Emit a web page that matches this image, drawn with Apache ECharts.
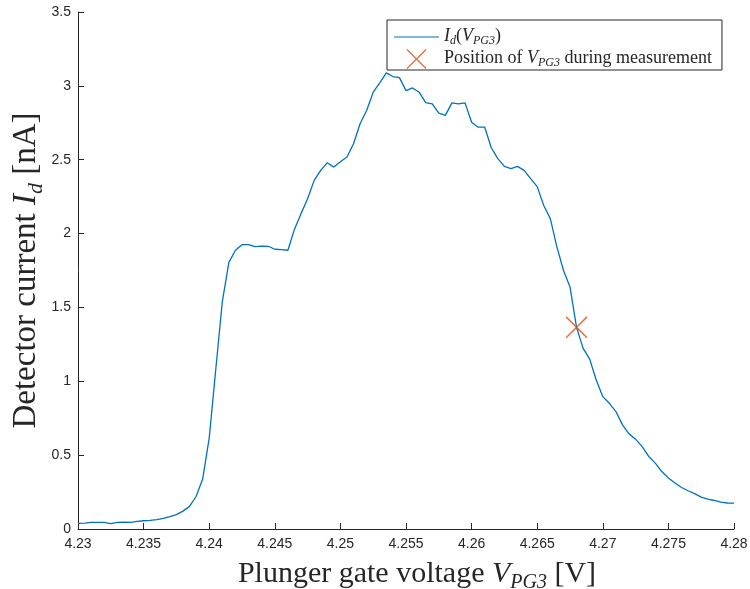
<!DOCTYPE html>
<html>
<head>
<meta charset="utf-8">
<script src="https://cdn.jsdelivr.net/npm/echarts@6/dist/echarts.min.js"></script>
<style>
html,body{margin:0;padding:0;background:#fff;}
#chart{width:750px;height:589px;}
</style>
</head>
<body>
<div id="chart"></div>
<script>
// Plunger gate voltage V_PG3 [V]
var voltages = [
  4.2300, 4.2305, 4.2310, 4.2315, 4.2320, 4.2325, 4.2330, 4.2335, 4.2340, 4.2345,
  4.2350, 4.2355, 4.2360, 4.2365, 4.2370, 4.2375, 4.2380, 4.2385, 4.2390, 4.2395,
  4.2400, 4.2405, 4.2410, 4.2415, 4.2420, 4.2425, 4.2430, 4.2435, 4.2440, 4.2445,
  4.2450, 4.2455, 4.2460, 4.2465, 4.2470, 4.2475, 4.2480, 4.2485, 4.2490, 4.2495,
  4.2500, 4.2505, 4.2510, 4.2515, 4.2520, 4.2525, 4.2530, 4.2535, 4.2540, 4.2545,
  4.2550, 4.2555, 4.2560, 4.2565, 4.2570, 4.2575, 4.2580, 4.2585, 4.2590, 4.2595,
  4.2600, 4.2605, 4.2610, 4.2615, 4.2620, 4.2625, 4.2630, 4.2635, 4.2640, 4.2645,
  4.2650, 4.2655, 4.2660, 4.2665, 4.2670, 4.2675, 4.2680, 4.2685, 4.2690, 4.2695,
  4.2700, 4.2705, 4.2710, 4.2715, 4.2720, 4.2725, 4.2730, 4.2735, 4.2740, 4.2745,
  4.2750, 4.2755, 4.2760, 4.2765, 4.2770, 4.2775, 4.2780, 4.2785, 4.2790, 4.2795,
  4.2800
];
// Detector current I_d [nA]
var currents = [
  0.038, 0.040, 0.045, 0.045, 0.045, 0.036, 0.045, 0.047, 0.045, 0.052,
  0.056, 0.059, 0.063, 0.072, 0.083, 0.097, 0.121, 0.153, 0.220, 0.338,
  0.615, 1.080, 1.540, 1.805, 1.887, 1.925, 1.925, 1.912, 1.915, 1.914,
  1.894, 1.892, 1.887, 2.030, 2.135, 2.236, 2.360, 2.428, 2.480, 2.450,
  2.486, 2.518, 2.608, 2.743, 2.833, 2.957, 3.020, 3.088, 3.063, 3.056,
  2.968, 2.986, 2.957, 2.887, 2.878, 2.815, 2.800, 2.885, 2.878, 2.885,
  2.754, 2.720, 2.720, 2.581, 2.507, 2.455, 2.439, 2.455, 2.428, 2.372,
  2.318, 2.190, 2.101, 1.910, 1.752, 1.639, 1.365, 1.223, 1.150, 1.009,
  0.896, 0.851, 0.795, 0.705, 0.644, 0.608, 0.558, 0.491, 0.446, 0.389,
  0.345, 0.311, 0.281, 0.259, 0.239, 0.216, 0.203, 0.193, 0.182, 0.176,
  0.175
];
// Position of V_PG3 during measurement
var markerV = [4.268];
var markerI = [1.365];

var xTickLabels = ['4.23','4.235','4.24','4.245','4.25','4.255','4.26','4.265','4.27','4.275','4.28'];
var yTickLabels = ['0','0.5','1','1.5','2','2.5','3','3.5'];

var seriesName1 = 'Id';
var seriesName2 = 'Pos';

var lineData = voltages.map(function (v, i) { return [v, currents[i]]; });
var markData = markerV.map(function (v, i) { return [v, markerI[i]]; });

var XPATH = 'path://M0,1L1,0L10,9L19,0L20,1L11,10L20,19L19,20L10,11L1,20L0,19L9,10Z';
var LINEPATH = 'path://M0,0L45,0L45,1.2L0,1.2Z';
var serif = '"Liberation Serif", "Times New Roman", serif';
var sans = '"Liberation Sans", Arial, sans-serif';
var axisColor = '#262626';
var blue = '#0072BD';
var orange = '#D95319';

function richSet(size, sub, drop) {
  var c = '#262626';
  return {
    n: { fontFamily: serif, fontSize: size, color: c, verticalAlign: 'top' },
    i: { fontFamily: serif, fontSize: size, fontStyle: 'italic', color: c, verticalAlign: 'top' },
    s: { fontFamily: serif, fontSize: sub, fontStyle: 'italic', color: c, verticalAlign: 'top', padding: [drop, 0, 0, 0] },
    sn: { fontFamily: serif, fontSize: sub, color: c, verticalAlign: 'top', padding: [drop, 0, 0, 0] }
  };
}

var chart = echarts.init(document.getElementById('chart'), null, { renderer: 'canvas' });
chart.setOption({
  animation: false,
  backgroundColor: '#ffffff',
  grid: { left: 78, right: 16, top: 12, bottom: 60, containLabel: false, outerBoundsMode: 'none' },
  xAxis: {
    type: 'value',
    min: 4.23, max: 4.28, interval: 0.005,
    name: '{n|Plunger gate voltage }{i|V}{s|PG3}{n| [V]}',
    nameLocation: 'middle',
    nameGap: 30,
    nameMoveOverlap: false,
    nameTextStyle: { rich: richSet(30, 20, 14), padding: [0, 0, 0, 22] },
    axisLine: { show: true, lineStyle: { color: axisColor, width: 1 } },
    axisTick: { show: true, inside: true, length: 6, lineStyle: { color: axisColor } },
    splitLine: { show: false },
    axisLabel: {
      color: '#262626', fontFamily: sans, fontSize: 14, margin: 8,
      formatter: function (v) {
        var idx = Math.round((v - 4.23) / 0.005);
        return xTickLabels[idx] !== undefined ? xTickLabels[idx] : '';
      }
    }
  },
  yAxis: {
    type: 'value',
    min: 0, max: 3.5, interval: 0.5,
    name: '{n|Detector current }{i|I}{s|d}{n| [nA]}',
    nameLocation: 'middle',
    nameGap: 31,
    nameMoveOverlap: false,
    nameRotate: 90,
    nameTextStyle: { rich: richSet(33, 22, 15) },
    axisLine: { show: true, lineStyle: { color: axisColor, width: 1 } },
    axisTick: { show: true, inside: true, length: 6, lineStyle: { color: axisColor } },
    splitLine: { show: false },
    axisLabel: {
      color: '#262626', fontFamily: sans, fontSize: 14, margin: 7,
      formatter: function (v) {
        var idx = Math.round(v / 0.5);
        return yTickLabels[idx] !== undefined ? yTickLabels[idx] : '';
      }
    }
  },
  legend: {
    orient: 'vertical',
    left: 387, top: 20,
    padding: [7, 10, 1, 7],
    itemWidth: 45, itemHeight: 20, itemGap: 2,
    backgroundColor: '#ffffff',
    borderColor: axisColor, borderWidth: 1,
    selectedMode: false,
    textStyle: { rich: richSet(18, 12, 8) },
    formatter: function (name) {
      if (name === seriesName1) return '{i|I}{s|d}{n|(}{i|V}{s|PG3}{n|)}';
      return '{n|Position of }{i|V}{s|PG3}{n| during measurement}';
    },
    data: [
      { name: seriesName1, icon: LINEPATH, itemStyle: { color: blue, borderColor: blue, borderWidth: 0 }, lineStyle: { color: blue } },
      { name: seriesName2, icon: XPATH, itemStyle: { color: orange, borderWidth: 0 } }
    ]
  },
  series: [
    {
      name: seriesName1,
      type: 'line',
      data: lineData,
      showSymbol: false,
      symbol: 'none',
      lineStyle: { color: blue, width: 1.3 },
      itemStyle: { color: blue },
      z: 2
    },
    {
      name: seriesName2,
      type: 'scatter',
      data: markData,
      symbol: XPATH,
      symbolSize: 22,
      itemStyle: { color: orange },
      z: 3
    }
  ]
});
</script>
</body>
</html>
